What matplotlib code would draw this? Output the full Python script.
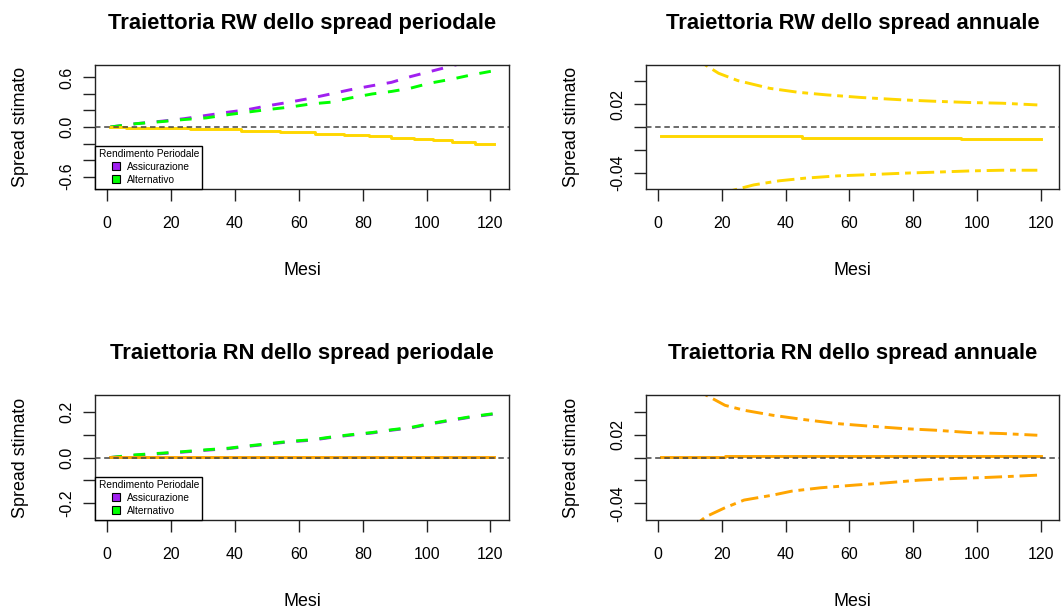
import matplotlib
matplotlib.use("Agg")
import matplotlib.pyplot as plt
from matplotlib.lines import Line2D

plt.rcParams['font.family'] = ['Liberation Sans', 'DejaVu Sans']

# ---------------- data ----------------
mesi_ticks = [0, 20, 40, 60, 80, 100, 120]

# RW, spread periodale
mesi_p = [1, 9, 17, 24, 31, 38, 44, 50, 57, 64, 70, 76, 83, 89, 95, 101, 108, 114, 121]
rw_assic = [0.0, 0.04, 0.07, 0.10, 0.14, 0.18, 0.21, 0.255, 0.30, 0.35, 0.40,
            0.45, 0.50, 0.54, 0.61, 0.67, 0.74, 0.80, 0.86]
rw_altern = [0.0, 0.04, 0.065, 0.09, 0.11, 0.15, 0.18, 0.21, 0.24, 0.28, 0.30,
             0.35, 0.40, 0.43, 0.47, 0.53, 0.58, 0.63, 0.68]
mesi_rw_spread = [1, 6, 26, 42, 54, 65, 74, 82, 89, 96, 102, 108, 115, 121]
rw_spread = [0.0, -0.01, -0.03, -0.05, -0.06, -0.08, -0.10, -0.11, -0.13,
             -0.15, -0.16, -0.18, -0.21, -0.21]

# RW, spread annuale
mesi_rw_sup = [14, 19, 25, 35, 44, 53, 64, 77, 87, 98, 108, 119]
rw_ann_sup = [0.056, 0.0472, 0.0408, 0.034, 0.0305, 0.0282, 0.0259, 0.0238,
              0.0226, 0.0215, 0.0209, 0.0194]
mesi_rw_inf = [23, 30, 38, 46, 56, 67, 77, 87, 98, 108, 119]
rw_ann_inf = [-0.056, -0.0509, -0.0473, -0.045, -0.043, -0.0418, -0.0406,
              -0.0397, -0.0386, -0.038, -0.038]
mesi_rw_ann = [1, 45, 95, 120]
rw_ann = [-0.0082, -0.0094, -0.0105, -0.0105]

# RN, spread periodale
rn_altern = [0.0, 0.012, 0.019, 0.026, 0.034, 0.041, 0.051, 0.06, 0.071, 0.078,
             0.09, 0.10, 0.11, 0.122, 0.132, 0.149, 0.166, 0.18, 0.193]
rn_assic = [0.0, 0.010, 0.017, 0.024, 0.032, 0.039, 0.049, 0.058, 0.069, 0.076,
            0.088, 0.098, 0.108, 0.120, 0.130, 0.147, 0.164, 0.178, 0.191]
mesi_rn_spread = [1, 121]
rn_spread = [0.003, 0.003]

# RN, spread annuale
mesi_rn_sup = [14, 21, 27, 36, 46, 56, 67, 77, 87, 98, 108, 119]
rn_ann_sup = [0.056, 0.0455, 0.0412, 0.0368, 0.033, 0.0296, 0.0272, 0.0252,
              0.0238, 0.0217, 0.0209, 0.0194]
mesi_rn_inf = [13, 15, 21, 27, 36, 42, 51, 62, 72, 82, 93, 103, 113, 119]
rn_ann_inf = [-0.056, -0.0516, -0.0438, -0.0371, -0.0328, -0.0293, -0.0264,
              -0.024, -0.022, -0.0197, -0.0183, -0.0174, -0.0162, -0.0154]
mesi_rn_ann = [1, 21, 120]
rn_ann = [0.0006, 0.0014, 0.0014]

yticks_p1 = [-0.6, -0.4, -0.2, 0.0, 0.2, 0.4, 0.6]
ylabels_p1 = ["-0.6", "", "", "0.0", "", "", "0.6"]
yticks_p3 = [-0.2, -0.1, 0.0, 0.1, 0.2]
ylabels_p3 = ["-0.2", "", "0.0", "", "0.2"]
yticks_ann = [-0.04, -0.02, 0.0, 0.02, 0.04]
ylabels_ann = ["-0.04", "", "", "0.02", ""]

titoli = ["Traiettoria RW dello spread periodale",
          "Traiettoria RW dello spread annuale",
          "Traiettoria RN dello spread periodale",
          "Traiettoria RN dello spread annuale"]

legenda_titolo = "Rendimento Periodale"
legenda_voci = ["Assicurazione", "Alternativo"]

PURPLE = "#A020F0"
GREEN = "#00FF00"
GOLD = "#FFD700"
ORANGE = "#FFA500"

# ---------------- layout ----------------
W, H = 1062, 610
fig = plt.figure(figsize=(W / 100, H / 100), dpi=100)


def box(l, t, r, b):
    return [l / W, 1 - b / H, (r - l) / W, (b - t) / H]


ax1 = fig.add_axes(box(95, 65, 509, 189))
ax2 = fig.add_axes(box(646, 65, 1059, 189))
ax3 = fig.add_axes(box(95, 395, 509, 520))
ax4 = fig.add_axes(box(646, 395, 1059, 520))

FS = 11.5
FS_LAB = 12.9
LW = 2.1
DASH = (0, (4, 4))
TWODASH = (0, (2, 2, 6, 2))


def style(ax, title, yticks, ylabels, ylim):
    ax.set_xlim(-3.8, 125.8)
    ax.set_ylim(*ylim)
    ax.set_xticks(mesi_ticks)
    ax.set_xticklabels([str(m) for m in mesi_ticks])
    ax.set_yticks(yticks)
    ax.set_yticklabels(ylabels)
    ax.tick_params(axis='both', direction='out', length=8.4, width=1.0,
                   color='#222222', labelsize=FS, labelcolor='black')
    ax.tick_params(axis='x', pad=11)
    ax.tick_params(axis='y', pad=6.2, labelrotation=90)
    for lab in ax.get_yticklabels():
        lab.set_va('center')
    for sp in ax.spines.values():
        sp.set_linewidth(1.0)
        sp.set_color('#222222')
    ax.set_title(title, fontsize=15.8, fontweight='bold', pad=26)
    ax.set_xlabel("Mesi", fontsize=FS_LAB)
    ax.xaxis.label.set_va('baseline')
    h_px = ax.get_position().height * H
    w_px = ax.get_position().width * W
    ax.xaxis.set_label_coords(0.5, -86 / h_px)
    ax.set_ylabel("Spread stimato", fontsize=FS_LAB)
    ax.yaxis.label.set_va('baseline')
    ax.yaxis.set_label_coords(-70 / w_px, 0.5)
    ax.axhline(0, color='#444444', lw=1.1, linestyle=(0, (3.6, 2.4)), zorder=5)


def legenda(ax):
    handles = [Line2D([], [], marker='s', linestyle='none', markersize=5.2,
                      markerfacecolor=c, markeredgecolor='black',
                      markeredgewidth=0.8) for c in (PURPLE, GREEN)]
    leg = ax.legend(handles, legenda_voci, title=legenda_titolo,
                    loc='lower left', bbox_to_anchor=(0, 0),
                    borderaxespad=0, fontsize=7.3, title_fontsize=7.3,
                    frameon=True, fancybox=False, framealpha=1,
                    edgecolor='black', borderpad=0.35, labelspacing=0.3,
                    handlelength=1.6, handleheight=1.0, handletextpad=0.25)
    leg.get_frame().set_linewidth(1.0)
    leg.set_zorder(10)


# RW periodale
ax1.plot(mesi_p, rw_assic, color=PURPLE, lw=LW, ls=DASH)
ax1.plot(mesi_p, rw_altern, color=GREEN, lw=LW, ls=DASH)
ax1.plot(mesi_rw_spread, rw_spread, color=GOLD, lw=LW, drawstyle='steps-post')
style(ax1, titoli[0], yticks_p1, ylabels_p1, (-0.75, 0.75))
legenda(ax1)

# RW annuale
ax2.plot(mesi_rw_sup, rw_ann_sup, color=GOLD, lw=LW, ls=TWODASH)
ax2.plot(mesi_rw_inf, rw_ann_inf, color=GOLD, lw=LW, ls=TWODASH)
ax2.plot(mesi_rw_ann, rw_ann, color=GOLD, lw=LW, drawstyle='steps-post')
style(ax2, titoli[1], yticks_ann, ylabels_ann, (-0.0545, 0.0545))

# RN periodale
ax3.plot(mesi_p, rn_assic, color=PURPLE, lw=LW, ls=DASH)
ax3.plot(mesi_p, rn_altern, color=GREEN, lw=LW, ls=DASH)
ax3.plot(mesi_rn_spread, rn_spread, color=ORANGE, lw=LW)
style(ax3, titoli[2], yticks_p3, ylabels_p3, (-0.275, 0.275))
legenda(ax3)

# RN annuale
ax4.plot(mesi_rn_sup, rn_ann_sup, color=ORANGE, lw=LW, ls=TWODASH)
ax4.plot(mesi_rn_inf, rn_ann_inf, color=ORANGE, lw=LW, ls=TWODASH)
ax4.plot(mesi_rn_ann, rn_ann, color=ORANGE, lw=LW, drawstyle='steps-post')
style(ax4, titoli[3], yticks_ann, ylabels_ann, (-0.0545, 0.0545))

fig.savefig("out.png", dpi=100)
